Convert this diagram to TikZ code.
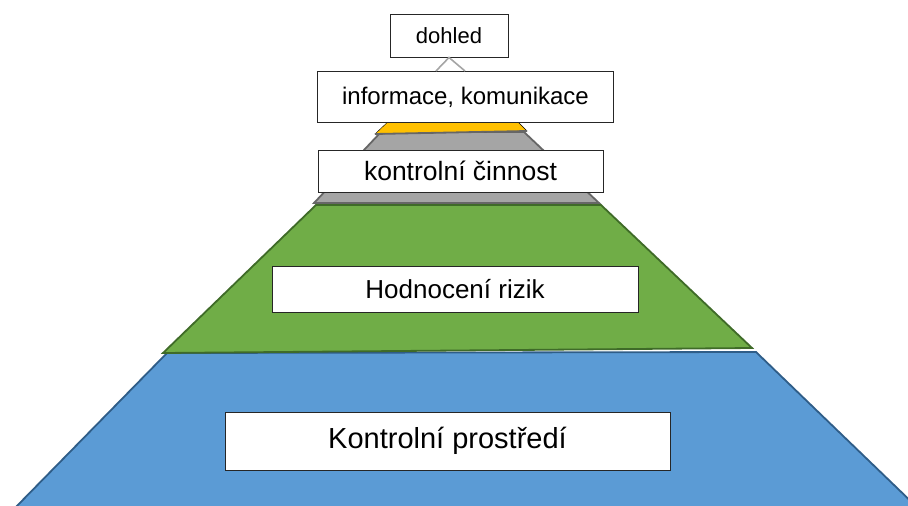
\documentclass[tikz,border=0pt]{standalone}
\usepackage{fontspec}
\setmainfont{Liberation Sans}
\definecolor{blueF}{HTML}{5B9BD5}
\definecolor{blueL}{HTML}{2F5D88}
\definecolor{greenF}{HTML}{70AD47}
\definecolor{greenL}{HTML}{3F6B28}
\definecolor{grayF}{HTML}{A5A5A5}
\definecolor{grayL}{HTML}{666666}
\definecolor{orangeF}{HTML}{FFC000}
\definecolor{topL}{HTML}{A5A5A5}
\tikzset{
  layer/.style={line width=1.8pt, line join=miter},
  labelbox/.style={draw=black!85, fill=white, line width=1pt, inner sep=0pt, anchor=center},
}
\begin{document}
\begin{tikzpicture}[x=1pt,y=-1pt]
\useasboundingbox (0,0) rectangle (908,506);
\begin{scope}
\clip (0,0) rectangle (908,506);
% blue base
\filldraw[layer, fill=blueF, draw=blueL] (167,353) -- (756,352) -- (922,512) -- (11,512) -- cycle;
% green
\filldraw[layer, fill=greenF, draw=greenL] (316,205) -- (601,205) -- (752,348) -- (163,353) -- cycle;
% gray
\filldraw[layer, fill=grayF, draw=grayL] (381,132) -- (524,132) -- (599,203) -- (314,203) -- cycle;
% orange
\filldraw[fill=orangeF] (392,118) -- (514,118) -- (527,131) -- (375,134) -- cycle;
\draw[layer, draw=grayL] (375,134) -- (527,131);
\end{scope}
% boxes
\node[labelbox, minimum width=118pt, minimum height=43pt] (dohled) at (449,35.5) {\fontsize{22}{26}\selectfont dohled};
\node[labelbox, minimum width=296pt, minimum height=51pt] (info) at (465.5,97) {\fontsize{24}{28}\selectfont informace, komunikace};
\node[labelbox, minimum width=285pt, minimum height=42pt] (kc) at (460.5,171) {\fontsize{26.5}{30}\selectfont kontrolní činnost};
\node[labelbox, minimum width=366pt, minimum height=46pt] (hr) at (455,289) {\fontsize{26}{30}\selectfont Hodnocení rizik};
\node[labelbox, minimum width=445pt, minimum height=58pt] (kp) at (447.5,441) {\fontsize{29}{34}\selectfont Kontrolní prostředí};
% top triangle outline
\coordinate (apex) at (dohled.south);
\coordinate (tl) at ([xshift=-13pt]info.north -| apex);
\coordinate (tr) at ([xshift=16pt]info.north -| apex);
\draw[topL, line width=1.6pt] (tl) -- (apex) -- (tr);
\end{tikzpicture}
\end{document}
